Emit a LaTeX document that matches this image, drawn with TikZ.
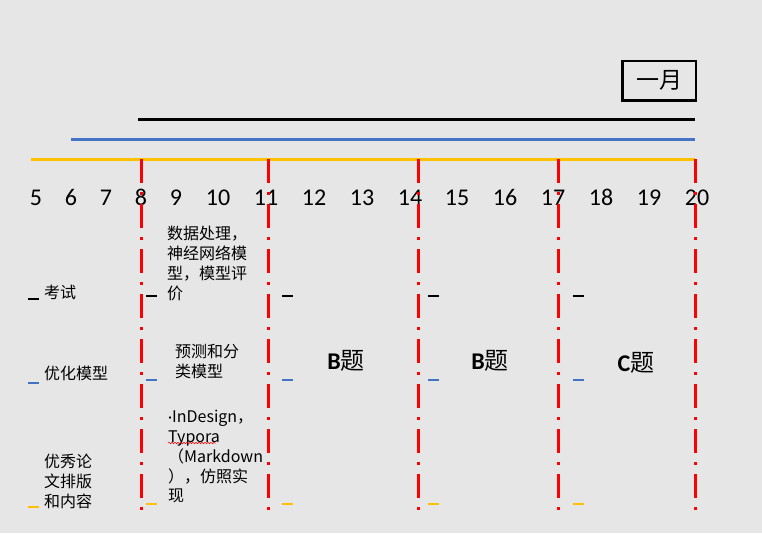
\documentclass[tikz,border=0pt]{standalone}
\usepackage{fontspec}
\setmainfont{Carlito}
\newfontfamily\cjk{Noto Sans CJK SC}
\usetikzlibrary{decorations.pathmorphing}
\definecolor{hinter}{HTML}{E7E6E6}
\definecolor{rot}{HTML}{FF0000}
\definecolor{blau}{HTML}{4472C4}
\definecolor{gelb}{HTML}{FFC000}
\tikzset{
  balken/.style={line width=3pt},
  trenn/.style={rot,line width=3pt,dash pattern=on 24pt off 9pt on 3pt off 9pt},
  strich/.style={line width=2.6pt},
  zahl/.style={font=\fontsize{24}{28}\selectfont,inner sep=0pt,anchor=base},
  notiz/.style={font=\cjk\fontsize{16}{19.8}\selectfont,align=left,anchor=north west,inner sep=0pt},
  titel/.style={font=\fontsize{24}{28}\selectfont,inner sep=0pt},
  welle/.style={rot,line width=0.5pt,decorate,decoration={snake,amplitude=0.8pt,segment length=3pt}},
}

\begin{document}
\begin{tikzpicture}[x=1pt,y=-1pt]
  \fill[hinter] (0,0) rectangle (762,533);
  \useasboundingbox (0,0) rectangle (762,533);
  \node[draw,line width=2.5pt,minimum width=73.5pt,minimum height=39.5pt,
    font=\cjk\fontsize{23}{27}\selectfont] (monat) at (659,80.5) {一月};
  \draw[balken,black] (138,119) -- (695,119);
  \draw[balken,blau] (71,139) -- (695,139);
  \draw[balken,gelb] (31,159) -- (695,159);
  \foreach \z/\x in {5/36,6/71,7/106,8/141,9/176,10/218,11/266,12/314,13/362,
    14/410,15/457,16/505,17/553,18/601,19/649,20/697}
    \node[zahl] (z\z) at (\x,205) {\z};
  \foreach \x in {141,268,418,558,695}
    \draw[trenn] (\x,159) -- (\x,511);
  \foreach \x/\d in {28/3,146/0,282/0,428/0,573/0}{
    \draw[strich,black] (\x,296+\d) -- ++(11,0);
    \draw[strich,blau] (\x,380+\d) -- ++(11,0);
    \draw[strich,gelb] (\x,504+\d) -- ++(11,0);
  }
  \node[notiz,anchor=west] (ks) at (44,292) {考试};
  \node[notiz,anchor=west] (om) at (44,373) {优化模型};
  \node[notiz,anchor=west] (ul) at (44,481.5) {优秀论\\文排版\\和内容};
  \node[notiz] (t1) at (167,226) {数据处理，\\神经网络模\\型，模型评\\价};
  \node[notiz] (t2) at (175,344) {预测和分\\类模型};
  \node[notiz] (t3) at (168,410) {{\rmfamily ·}InDesign，\\Typora\\（Markdown\\），仿照实\\现};
  \draw[welle] (168,443) -- (216,443);
  \node[titel] (b1) at (346,361) {\textbf{B}{\cjk 题}};
  \node[titel] (b2) at (490,361) {\textbf{B}{\cjk 题}};
  \node[titel] (c1) at (636,363) {\textbf{C}{\cjk 题}};
\end{tikzpicture}
\end{document}
